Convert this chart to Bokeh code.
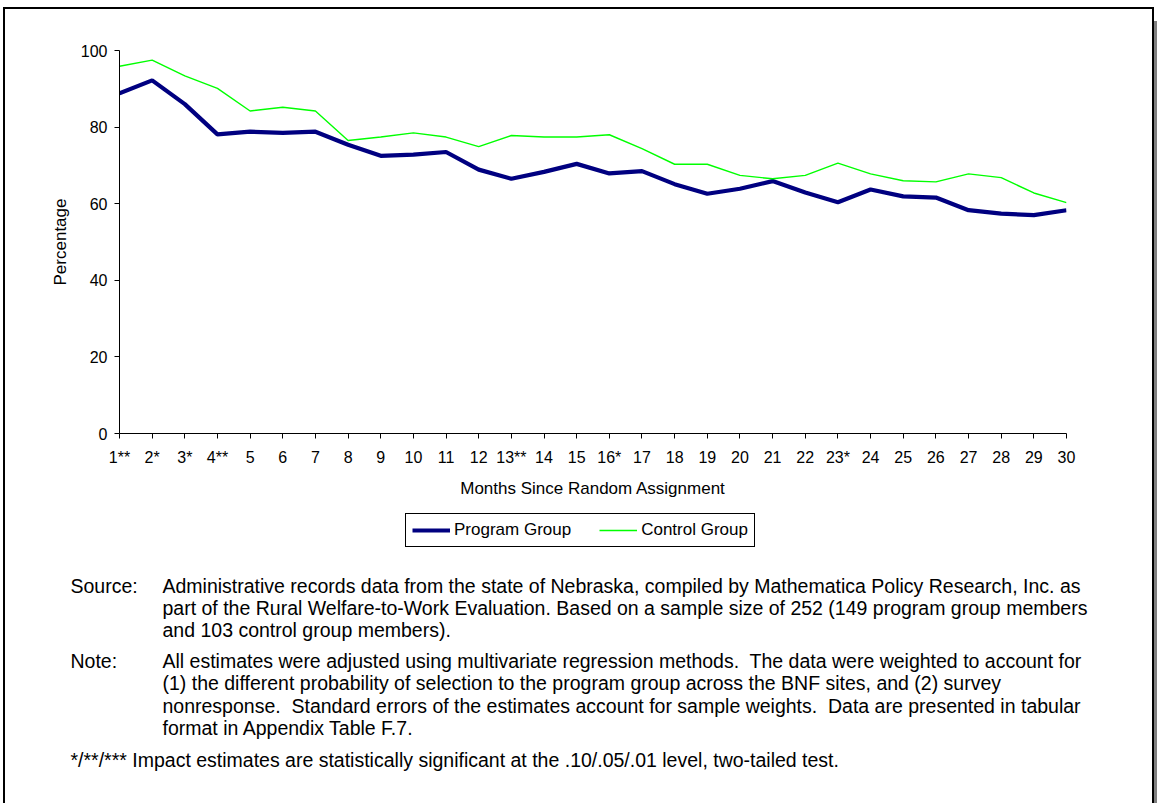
from bokeh.plotting import figure
from bokeh.layouts import column
from bokeh.models import Range1d, FixedTicker, Label, Legend, LegendItem
from bokeh.embed import file_html
from bokeh.resources import INLINE

# ---------------- data ----------------
month_labels = ["1**", "2*", "3*", "4**", "5", "6", "7", "8", "9", "10", "11", "12",
                "13**", "14", "15", "16*", "17", "18", "19", "20", "21", "22", "23*",
                "24", "25", "26", "27", "28", "29", "30"]
months = list(range(1, 31))
program_group = [88.8, 92.2, 86.0, 78.1, 78.8, 78.5, 78.8, 75.4, 72.5, 72.8,
                 73.5, 68.9, 66.5, 68.3, 70.4, 67.9, 68.5, 65.1, 62.6, 63.9,
                 65.9, 62.9, 60.4, 63.7, 61.9, 61.6, 58.3, 57.4, 57.0, 58.3]
control_group = [95.9, 97.5, 93.4, 90.1, 84.2, 85.2, 84.2, 76.5, 77.4, 78.5,
                 77.4, 74.9, 77.8, 77.4, 77.4, 78.0, 74.4, 70.3, 70.3, 67.4,
                 66.5, 67.4, 70.6, 67.8, 66.0, 65.7, 67.8, 66.8, 62.8, 60.3]
y_ticks = [0, 20, 40, 60, 80, 100]
series_names = ["Program Group", "Control Group"]
series_values = [program_group, control_group]
series_colors = ["#000080", "#00FF00"]
series_widths = [4.2, 1.4]
x_title = "Months Since Random Assignment"
y_title = "Percentage"
source_label = "Source:"
source_lines = [
    "Administrative records data from the state of Nebraska, compiled by Mathematica Policy Research, Inc. as",
    "part of the Rural Welfare-to-Work Evaluation. Based on a sample size of 252 (149 program group members",
    "and 103 control group members).",
]
note_label = "Note:"
note_lines = [
    "All estimates were adjusted using multivariate regression methods.\u00a0 The data were weighted to account for",
    "(1) the different probability of selection to the program group across the BNF sites, and (2) survey",
    "nonresponse.\u00a0 Standard errors of the estimates account for sample weights.\u00a0 Data are presented in tabular",
    "format in Appendix Table F.7.",
]
footnote = "*/**/*** Impact estimates are statistically significant at the .10/.05/.01 level, two-tailed test."

# ---------------- geometry ----------------
FONT = "Liberation Sans"
OX, OY = 5, 9            # page position of the content (inside the outer frame)
W = 1147
SPLIT = 503              # page y where the chart figure ends and the notes figure starts
H_CHART = SPLIT - OY
H_NOTES = 803 - SPLIT
FL, FR, FT, FB = 119 - OX, 1066 - OX, 50 - OY, 433 - OY


def no_align(fig):
    if "frame_align" in fig.properties():
        fig.frame_align = False


p = figure(width=W, height=H_CHART, output_backend="svg", toolbar_location=None,
           x_range=Range1d(1, 30), y_range=Range1d(0, 100),
           min_border_left=FL, min_border_right=W - FR,
           min_border_top=FT, min_border_bottom=H_CHART - FB)
no_align(p)
p.background_fill_color = "white"
p.border_fill_color = "white"
p.outline_line_color = None
p.xgrid.visible = False
p.ygrid.visible = False

for axis in (p.xaxis[0], p.yaxis[0]):
    axis.axis_line_color = "black"
    axis.axis_line_width = 1
    axis.major_tick_line_color = "black"
    axis.major_tick_in = 0
    axis.major_tick_out = 5
    axis.minor_tick_line_color = None
    axis.major_label_text_font = FONT
    axis.major_label_text_font_size = "16px"
    axis.major_label_text_color = "black"
    axis.axis_label_text_font = FONT
    axis.axis_label_text_font_size = "17px"
    axis.axis_label_text_font_style = "normal"
    axis.axis_label_text_color = "black"

p.xaxis.ticker = FixedTicker(ticks=months)
p.xaxis.major_label_overrides = {m: lab for m, lab in zip(months, month_labels)}
p.xaxis.major_label_standoff = 10
p.xaxis.axis_label = x_title
p.xaxis.axis_label_standoff = 10
p.yaxis.ticker = FixedTicker(ticks=y_ticks)
p.yaxis.major_label_standoff = 7
p.yaxis.axis_label = y_title
p.yaxis.axis_label_standoff = 8

for vals, c, w in zip(series_values, series_colors, series_widths):
    p.line(months, vals, line_color=c, line_width=w)

# ---------------- notes / legend panel ----------------
n = figure(width=W, height=H_NOTES, output_backend="svg", toolbar_location=None,
           x_range=Range1d(OX, OX + W), y_range=Range1d(803, SPLIT),
           x_axis_type=None, y_axis_type=None,
           min_border_left=0, min_border_right=0, min_border_top=0, min_border_bottom=0)
no_align(n)
n.background_fill_color = "white"
n.border_fill_color = "white"
n.outline_line_color = None
n.xgrid.visible = False
n.ygrid.visible = False

# legend swatches: the series drawn again in this panel's pixel space, where they
# fall outside the visible range, only so that the legend can show their styles
proxies = [n.line(months, vals, line_color=c, line_width=w)
           for vals, c, w in zip(series_values, series_colors, series_widths)]
legend = Legend(items=[LegendItem(label=s, renderers=[r]) for s, r in zip(series_names, proxies)],
                location=(405 - OX, 803 - 547), orientation="horizontal",
                border_line_color="black", border_line_width=1.5, border_line_alpha=1,
                background_fill_color="white", background_fill_alpha=1,
                label_text_font=FONT, label_text_font_size="17px", label_text_color="black",
                glyph_width=38, glyph_height=14, label_height=14,
                label_standoff=4, spacing=28, padding=6, margin=0)
n.add_layout(legend)

NOTE_FS = "19.5px"


def note(x, y, t):
    n.add_layout(Label(x=x, y=y, text=t, text_align="left", text_baseline="middle",
                       text_font=FONT, text_font_size=NOTE_FS, text_color="black"))


note(70, 585, source_label)
for i, t in enumerate(source_lines):
    note(162, 585 + 22 * i, t)
note(70, 660, note_label)
for i, t in enumerate(note_lines):
    note(162, 660 + 22.5 * i, t)
note(70, 759, footnote)

layout = column(p, n, spacing=0,
                styles={"margin": "7px 0px 0px 3px",
                        "border": "2px solid black",
                        "border-bottom": "0px",
                        "box-shadow": "4px 14px 0px 0px #808080"})

open("out.html", "w").write(file_html(layout, INLINE))
